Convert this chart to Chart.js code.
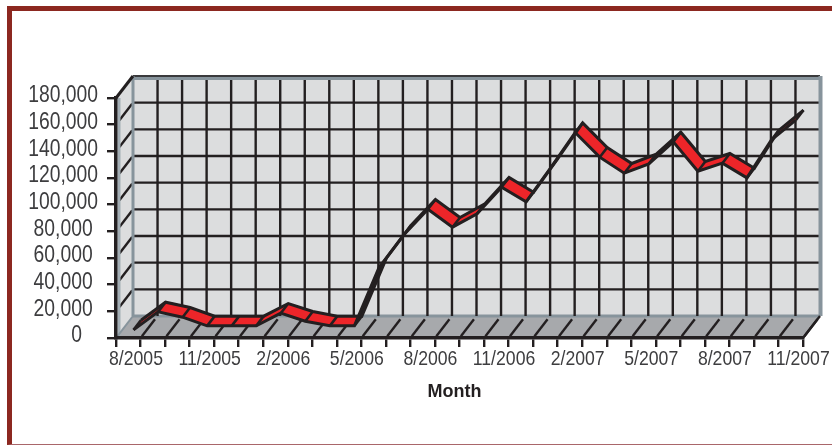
<!DOCTYPE html>
<html>
<head>
<meta charset="utf-8">
<title>Month</title>
<script src="https://cdn.jsdelivr.net/npm/chart.js@4/dist/chart.umd.js"></script>
<style>
  html, body { margin: 0; padding: 0; background: #fff; }
  #marco {
    position: absolute; left: 7px; top: 6px; width: 825px; height: 439px;
    border-top: 5px solid #8c2820; border-left: 5px solid #8c2820;
    border-bottom: 1px solid #a9666a; box-sizing: border-box;
  }
  #grafica { position: absolute; left: 0; top: 0; }
</style>
</head>
<body>
<div id="marco"></div>
<canvas id="grafica" width="832" height="446"></canvas>
<script>
const meses = ['8/2005','9/2005','10/2005','11/2005','12/2005','1/2006','2/2006','3/2006','4/2006','5/2006',
  '6/2006','7/2006','8/2006','9/2006','10/2006','11/2006','12/2006','1/2007','2/2007','3/2007',
  '4/2007','5/2007','6/2007','7/2007','8/2007','9/2007','10/2007','11/2007'];
const valores = [1000,14500,10500,4000,4000,4000,13500,7500,4000,4000,
  47500,72000,91500,78000,88000,108000,97000,122500,149000,130500,
  118500,125500,142000,120000,126000,115000,143500,158500];
const marcasY = [0,20000,40000,60000,80000,100000,120000,140000,160000,180000];

// profundidad del 3D, en unidades de los ejes
const fondoX = 0.693, fondoY = 16500;
const cintaFrente = 0.31, cintaAtras = 0.75;

const NEGRO = '#231f20', ROJO = '#ed2529', PARED = '#dcddde', PISO = '#a7a9ac', BORDE = '#87949c';

function serieCinta(d) {
  return valores.map((v, i) => ({ x: i + 0.5 + fondoX * d, y: v + fondoY * d }));
}

function punto(chart, x, y, d) {
  return [chart.scales.x.getPixelForValue(x + fondoX * d), chart.scales.y.getPixelForValue(y + fondoY * d)];
}

function linea(ctx, a, b, color, ancho) {
  ctx.strokeStyle = color;
  ctx.lineWidth = ancho;
  ctx.beginPath();
  ctx.moveTo(a[0], a[1]);
  ctx.lineTo(b[0], b[1]);
  ctx.stroke();
}

function poligono(ctx, pts, color) {
  ctx.fillStyle = color;
  ctx.beginPath();
  pts.forEach((p, i) => i ? ctx.lineTo(p[0], p[1]) : ctx.moveTo(p[0], p[1]));
  ctx.closePath();
  ctx.fill();
}

// paredes, piso y rejilla
const fondo3d = {
  id: 'fondo3d',
  beforeDraw(chart) {
    const ctx = chart.ctx;
    const maxX = meses.length, maxY = marcasY[marcasY.length - 1];
    const p = (x, y, d) => punto(chart, x, y, d);
    ctx.save();
    poligono(ctx, [p(0,0,1), p(maxX,0,1), p(maxX,maxY,1), p(0,maxY,1)], PARED);
    poligono(ctx, [p(0,0,0), p(0,0,1), p(0,maxY,1), p(0,maxY,0)], PARED);
    poligono(ctx, [p(0,0,0), p(maxX,0,0), p(maxX,0,1), p(0,0,1)], PISO);

    linea(ctx, p(0,0,1), p(maxX,0,1), BORDE, 3);
    marcasY.slice(1, -1).forEach(v => {
      linea(ctx, p(0,v,1), p(maxX,v,1), NEGRO, 2.4);
      linea(ctx, p(0,v,0.2), p(0,v,0.95), NEGRO, 2.4);
    });
    for (let i = 1; i < maxX; i++) {
      linea(ctx, p(i,0,1), p(i,maxY,1), NEGRO, 2.4);
    }
    for (let i = 1; i <= maxX; i++) {
      linea(ctx, p(i,0,0.08), p(i,0,0.85), NEGRO, 2.4);
    }
    // bordes
    linea(ctx, [p(0,maxY,1)[0], p(0,maxY,1)[1] + 2.5], [p(maxX,maxY,1)[0], p(maxX,maxY,1)[1] + 2.5], BORDE, 3);
    linea(ctx, p(0,maxY,1), p(maxX,maxY,1), '#3a3a3c', 2);
    linea(ctx, p(0,0,1), p(0,maxY,1), BORDE, 3);
    linea(ctx, [p(maxX,0,1)[0] + 0.5, p(maxX,0,1)[1]], [p(maxX,maxY,1)[0] + 0.5, p(maxX,maxY,1)[1]], BORDE, 4);
    linea(ctx, [p(0,0,0)[0] + 3, p(0,0,0)[1]], [p(0,maxY,0)[0] + 3, p(0,maxY,0)[1]], '#a3aeb5', 3);
    linea(ctx, p(0,0,0.1), p(0,0,1), BORDE, 2);
    linea(ctx, p(0,maxY,0), p(0,maxY,1), NEGRO, 3);
    linea(ctx, p(maxX,0,0), p(maxX,0,1), NEGRO, 2.4);
    ctx.restore();
  },
  // cara superior de la cinta: solo roja donde se ve desde arriba
  beforeDatasetsDraw(chart) {
    const ctx = chart.ctx;
    const frente = chart.getDatasetMeta(0).data;
    const atras = chart.getDatasetMeta(1).data;
    ctx.save();
    ctx.lineJoin = 'round';
    for (let i = 0; i < frente.length - 1; i++) {
      const a = frente[i], b = frente[i + 1], c = atras[i + 1], d = atras[i];
      const giro = (b.x - a.x) * (d.y - a.y) - (b.y - a.y) * (d.x - a.x);
      const color = giro < 0 ? ROJO : NEGRO;
      poligono(ctx, [[a.x,a.y], [b.x,b.y], [c.x,c.y], [d.x,d.y]], color);
    }
    frente.forEach((a, i) => linea(ctx, [a.x, a.y], [atras[i].x, atras[i].y], NEGRO, 2.6));
    ctx.restore();
  }
};

// no hay fuente estrecha instalada: se comprime el texto normal a lo ancho
const lienzo = document.getElementById('grafica');
const ctxLienzo = lienzo.getContext('2d');
const fillTextOriginal = ctxLienzo.fillText.bind(ctxLienzo);
ctxLienzo.fillText = function (texto, x, y, maxAncho) {
  if (ctxLienzo.font.includes('bold')) {
    return fillTextOriginal(texto, x, y, maxAncho);
  }
  ctxLienzo.save();
  ctxLienzo.translate(x, y);
  ctxLienzo.scale(0.84, 1);
  fillTextOriginal(texto, 0, 0);
  ctxLienzo.restore();
};

new Chart(lienzo, {
  type: 'line',
  data: {
    datasets: [
      { label: 'Frente', data: serieCinta(cintaFrente), borderColor: NEGRO, borderWidth: 3, pointRadius: 0, tension: 0, clip: false },
      { label: 'Atras', data: serieCinta(cintaAtras), borderColor: NEGRO, borderWidth: 3, pointRadius: 0, tension: 0, clip: false }
    ]
  },
  plugins: [fondo3d],
  options: {
    responsive: false,
    animation: false,
    layout: { padding: { top: 98, right: 29, left: 0, bottom: 0 } },
    plugins: { legend: { display: false }, tooltip: { enabled: false } },
    scales: {
      x: {
        type: 'linear',
        min: 0,
        max: meses.length,
        afterFit(scale) { scale.height = 108; },
        border: { color: NEGRO, width: 3.5 },
        grid: { drawOnChartArea: false, drawTicks: true, tickLength: 9, color: NEGRO, lineWidth: 2.4 },
        ticks: {
          stepSize: 1,
          autoSkip: false,
          maxRotation: 0,
          labelOffset: 20,
          padding: 0,
          color: '#3d3d3f',
          font: { family: '"Liberation Sans"', size: 21 },
          callback: v => (v % 3 === 0 && meses[v]) ? meses[v] : ''
        },
        title: {
          display: true,
          text: 'Month  ',
          color: NEGRO,
          padding: { top: 0, bottom: 43 },
          font: { family: '"Liberation Sans"', size: 18, weight: 'bold' }
        }
      },
      y: {
        min: 0,
        max: 180000,
        afterFit(scale) { scale.width = 116; },
        border: { color: NEGRO, width: 3.5 },
        grid: { drawOnChartArea: false, drawTicks: true, tickLength: 9, color: NEGRO, lineWidth: 2.4 },
        afterBuildTicks(scale) { scale.ticks = marcasY.map(v => ({ value: v })); },
        ticks: {
          autoSkip: false,
          labelOffset: -2,
          padding: 9,
          color: '#3d3d3f',
          font: { family: '"Liberation Sans"', size: 23 },
          // el original no alinea bien a la derecha las cifras cortas
          callback: v => v.toLocaleString('en-US') + (v === 0 ? '   ' : v < 100000 ? ' ' : '')
        }
      }
    }
  }
});
</script>
</body>
</html>
